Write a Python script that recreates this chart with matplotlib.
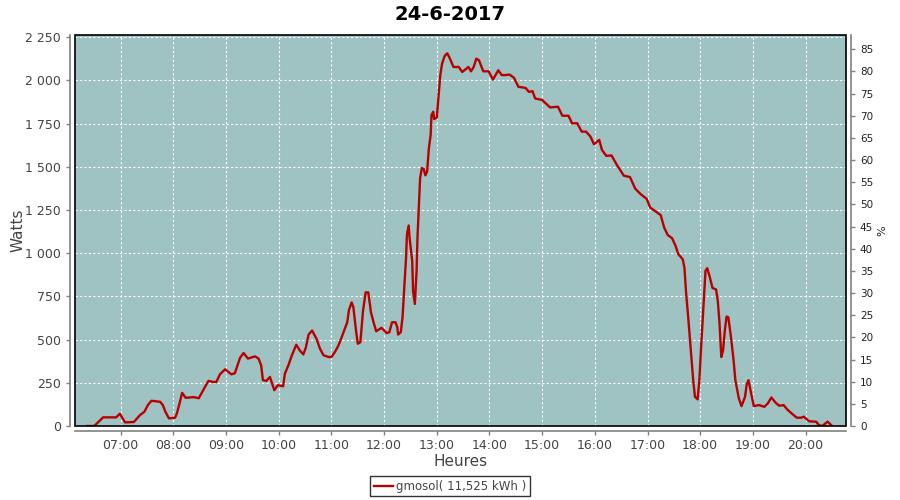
import matplotlib
matplotlib.use("Agg")
from matplotlib import pyplot as plt
from matplotlib.patches import Rectangle
import numpy as np

title = "24-6-2017"
series_name = "gmosol( 11,525 kWh )"

times = ["06:22", "06:24", "06:30", "06:40", "06:55", "06:59", "07:05", "07:15", "07:22", "07:27",
         "07:31", "07:35", "07:45", "07:48", "07:51", "07:55", "08:02", "08:04", "08:07", "08:10",
         "08:14", "08:23", "08:29", "08:36", "08:40", "08:45", "08:49", "08:53", "08:59", "09:06",
         "09:10", "09:16", "09:20", "09:25", "09:33", "09:37", "09:40", "09:42", "09:46", "09:50",
         "09:55", "09:59", "10:05", "10:07", "10:11", "10:15", "10:20", "10:24", "10:28", "10:31",
         "10:34", "10:38", "10:43", "10:47", "10:51", "10:57", "11:00", "11:04", "11:08", "11:12",
         "11:18", "11:20", "11:23", "11:25", "11:28", "11:30", "11:33", "11:36", "11:39", "11:42",
         "11:45", "11:48", "11:51", "11:57", "12:03", "12:06", "12:09", "12:13", "12:15", "12:16",
         "12:19", "12:21", "12:23", "12:25", "12:26", "12:28", "12:29", "12:32", "12:33", "12:35",
         "12:37", "12:38", "12:40", "12:41", "12:43", "12:45", "12:47", "12:49", "12:51", "12:53",
         "12:54", "12:56", "12:57", "13:00", "13:02", "13:04", "13:06", "13:09", "13:12", "13:15",
         "13:19", "13:25", "13:29", "13:36", "13:39", "13:42", "13:45", "13:48", "13:53", "13:59",
         "14:04", "14:10", "14:14", "14:18", "14:23", "14:28", "14:33", "14:41", "14:45", "14:49",
         "14:52", "15:00", "15:09", "15:18", "15:23", "15:30", "15:34", "15:40", "15:45", "15:50",
         "15:55", "15:59", "16:05", "16:08", "16:13", "16:19", "16:25", "16:33", "16:40", "16:46",
         "16:52", "16:59", "17:03", "17:15", "17:19", "17:23", "17:28", "17:32", "17:35", "17:40",
         "17:42", "17:44", "17:46", "17:49", "17:52", "17:54", "17:57", "17:59", "18:01", "18:04",
         "18:06", "18:08", "18:11", "18:14", "18:18", "18:20", "18:22", "18:24", "18:26", "18:28",
         "18:30", "18:32", "18:35", "18:38", "18:40", "18:44", "18:47", "18:51", "18:53", "18:55",
         "18:58", "19:01", "19:07", "19:13", "19:17", "19:21", "19:26", "19:30", "19:35", "19:39",
         "19:45", "19:50", "19:55", "19:58", "20:04", "20:12", "20:15", "20:19", "20:25", "20:29"]

watts = [0, 0, 0, 50, 50, 71, 21, 23, 63, 82,
         121, 146, 140, 121, 82, 44, 48, 73, 130, 192,
         163, 167, 161, 226, 261, 255, 255, 299, 328, 299,
         305, 395, 422, 390, 403, 390, 351, 265, 261, 284,
         207, 236, 230, 303, 351, 409, 470, 437, 414, 456,
         529, 552, 505, 447, 409, 399, 399, 428, 466, 518,
         600, 671, 715, 687, 552, 476, 485, 667, 773, 773,
         658, 600, 548, 568, 537, 543, 600, 600, 571, 529,
         543, 629, 801, 974, 1109, 1160, 1089, 955, 782, 706,
         898, 1089, 1319, 1434, 1492, 1488, 1450, 1473, 1607, 1684,
         1799, 1818, 1776, 1784, 1905, 2030, 2096, 2141, 2156, 2125,
         2077, 2077, 2048, 2077, 2052, 2077, 2125, 2116, 2052, 2052,
         2004, 2058, 2030, 2030, 2033, 2014, 1962, 1956, 1933, 1937,
         1895, 1886, 1843, 1847, 1795, 1795, 1751, 1751, 1703, 1703,
         1674, 1630, 1655, 1598, 1563, 1565, 1511, 1448, 1440, 1373,
         1342, 1314, 1264, 1220, 1147, 1105, 1086, 1041, 994, 965,
         917, 764, 648, 456, 265, 169, 154, 265, 456, 725,
         898, 913, 859, 798, 790, 725, 591, 399, 437, 552,
         633, 629, 514, 380, 265, 159, 115, 169, 242, 265,
         188, 115, 121, 111, 131, 165, 134, 117, 121, 96,
         69, 48, 48, 54, 27, 25, 6, 0, 25, 6]

hour_labels = ["07:00", "08:00", "09:00", "10:00", "11:00", "12:00", "13:00",
               "14:00", "15:00", "16:00", "17:00", "18:00", "19:00", "20:00"]
watt_ticks = [0, 250, 500, 750, 1000, 1250, 1500, 1750, 2000, 2250]
pct_ticks = list(range(0, 90, 5))


def to_minutes(hhmm):
    h, m = hhmm.split(":")
    return int(h) * 60 + int(m)


x = np.array([to_minutes(t) for t in times])
y = np.array(watts)

fig = plt.figure(figsize=(9, 5), dpi=100)
ax = fig.add_axes([75 / 900, 1 - 426 / 500, 771 / 900, 391 / 500])
ax.set_facecolor("#9fc3c2")

ax.plot(x, y, color="#b80000", lw=1.7, zorder=3)

ax.set_xlim(368, 1246)
ax.set_ylim(0, 2262)

ax.set_xticks([to_minutes(h) for h in hour_labels])
ax.set_xticklabels(hour_labels)
ax.set_yticks(watt_ticks)
ax.set_yticklabels([f"{v:,}".replace(",", " ") for v in watt_ticks])
ax.grid(True, color="white", linestyle=(0, (2, 2)), linewidth=0.8)
ax.set_axisbelow(True)

grey = "#808080"
txt = "#444444"
for side in ["top", "right"]:
    ax.spines[side].set_visible(False)
for side in ["left", "bottom"]:
    ax.spines[side].set_position(("outward", 3.5))
    ax.spines[side].set_color(grey)
    ax.spines[side].set_linewidth(1.2)
ax.tick_params(axis="both", colors=grey, length=3, width=1, labelsize=9, labelcolor=txt)
ax.tick_params(axis="x", pad=3)

# black frame of the plot area
ax.add_patch(Rectangle((0, 0), 1, 1, transform=ax.transAxes, fill=False,
                       edgecolor="black", lw=1.2, zorder=5, clip_on=False))

ax2 = ax.twinx()
ax2.set_ylim(0, 88.2)
ax2.set_yticks(pct_ticks)
for side in ["top", "left", "bottom"]:
    ax2.spines[side].set_visible(False)
ax2.spines["right"].set_position(("outward", 3.5))
ax2.spines["right"].set_color(grey)
ax2.spines["right"].set_linewidth(1.2)
ax2.tick_params(axis="y", colors=grey, length=3, width=1, labelsize=7.5, labelcolor="#222222")
ax2.set_ylabel("%", fontsize=8, color="#222222", labelpad=3)

ax.set_xlabel("Heures", fontsize=11, color=txt, labelpad=1)
ax.set_ylabel("Watts", fontsize=11, color=txt, labelpad=0)
fig.suptitle(title, fontsize=14, fontweight="bold", y=0.99)

line = ax.get_lines()[0]
leg = fig.legend([line], [series_name], loc="lower center", bbox_to_anchor=(0.5, 0.0),
                 frameon=True, fancybox=False, fontsize=8.5, handlelength=1.6,
                 borderpad=0.3, handletextpad=0.3, borderaxespad=0.3)
leg.get_frame().set_edgecolor("black")
leg.get_frame().set_linewidth(1)
for t in leg.get_texts():
    t.set_color(txt)

fig.savefig("out.png", dpi=100)
